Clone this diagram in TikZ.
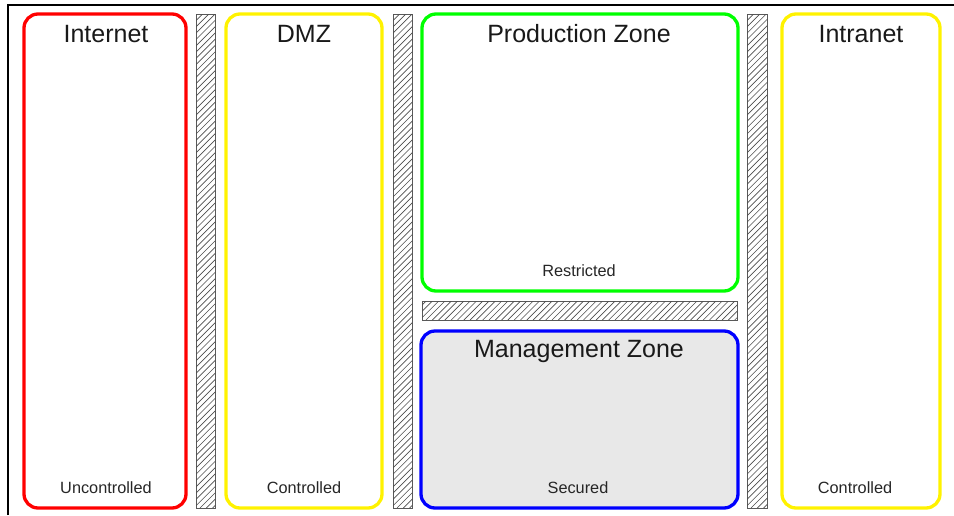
\documentclass[tikz,border=0pt]{standalone}
\usepackage{fontspec}
\setmainfont{Liberation Sans}
\begin{document}
\begin{tikzpicture}[x=1pt,y=-1pt,
 zone/.style={draw=#1, line width=3.3pt, rounded corners=14pt, inner sep=0pt, outer sep=0pt, anchor=north west},
 wall/.style={draw=black!65, line width=0.9pt, inner sep=0pt, outer sep=0pt, anchor=north west},
 hatchline/.style={draw=black!70, line width=0.65pt},
 title/.style={font=\fontsize{25}{29}\selectfont, anchor=base, text=black!90},
 level/.style={font=\fontsize{16.3}{19}\selectfont, anchor=base, text=black!85}]
\useasboundingbox (0,0) rectangle (954,515);
% frame (top and left edges)
\coordinate (fbl) at (8,515);
\coordinate (ftl) at (8,5);
\coordinate (ftr) at (954,5);
\draw[line width=1.3pt] (fbl) -- (ftl) -- (ftr);
% zones
\node[zone=red, minimum width=162pt, minimum height=494pt] (internet) at (24,14) {};
\node[zone=yellow, minimum width=156pt, minimum height=494pt] (dmz) at (226,14) {};
\node[zone=green, minimum width=316pt, minimum height=277pt] (prod) at (422,14) {};
\node[zone=blue, fill=black!9, minimum width=317pt, minimum height=177pt] (mgmt) at (421,331) {};
\node[zone=yellow, minimum width=158pt, minimum height=494pt] (intranet) at (782,14) {};
% walls
\node[wall, minimum width=19pt, minimum height=494pt] (wall1) at (196,14) {};
\node[wall, minimum width=19pt, minimum height=494pt] (wall2) at (393,14) {};
\node[wall, minimum width=20pt, minimum height=494pt] (wall3) at (747,14) {};
\node[wall, minimum width=315pt, minimum height=19pt] (wallh) at (422,301) {};
\foreach \w in {wall1,wall2,wall3,wallh}{
  \begin{scope}
    \clip (\w.south west) rectangle (\w.north east);
    \foreach \k in {0,...,135}
      \draw[hatchline] ([xshift={-500pt+\k*6.3pt}]\w.south west) -- ++(540,-540);
  \end{scope}
}
% titles
\node[title] (tinternet) at (106,42) {Internet};
\node[title] (tdmz) at (304,42) {DMZ};
\node[title] (tprod) at (579,42) {Production Zone};
\node[title] (tmgmt) at (579,357) {Management Zone};
\node[title] (tintranet) at (861,42) {Intranet};
% levels
\node[level] (linternet) at (106,493) {Uncontrolled};
\node[level] (ldmz) at (304,493) {Controlled};
\node[level] (lprod) at (579,276) {Restricted};
\node[level] (lmgmt) at (578,493) {Secured};
\node[level] (lintranet) at (855,493) {Controlled};
\end{tikzpicture}
\end{document}
